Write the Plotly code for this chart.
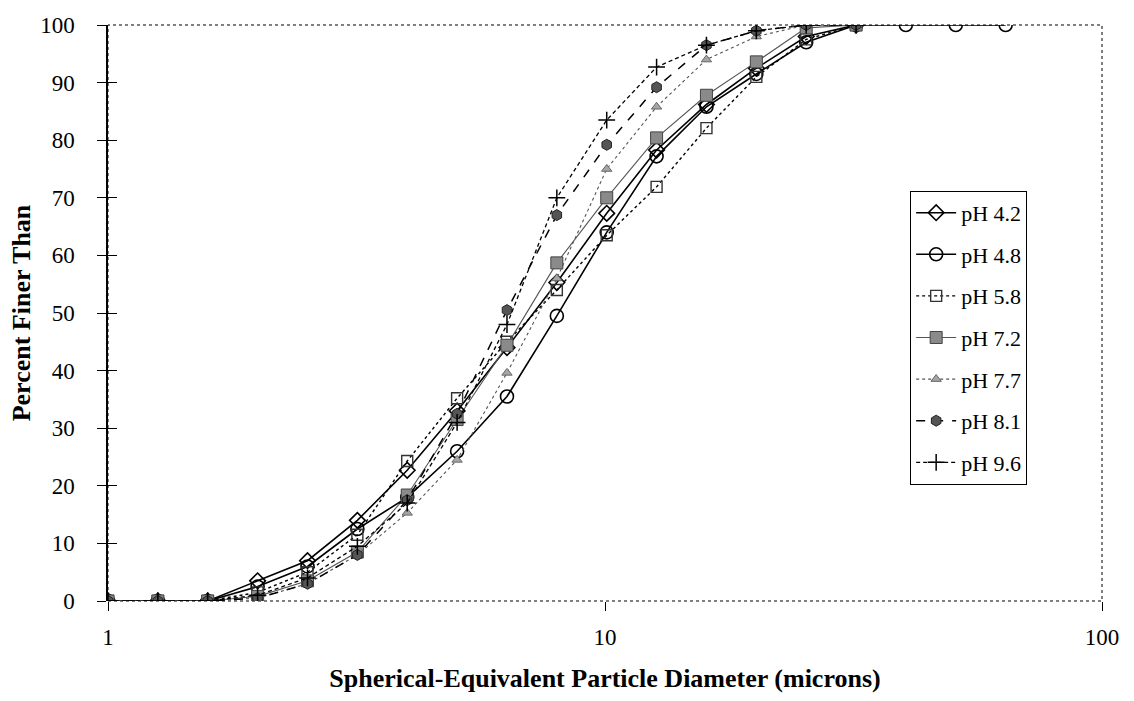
import plotly.graph_objects as go

# Sedigraph diameter classes (microns), geometric steps of 2^(1/3)
diameters = [1, 1.26, 1.587, 2, 2.52, 3.175, 4, 5.04, 6.35, 8, 10.08,
             12.7, 16, 20.16, 25.4, 32, 40.3, 50.8, 64]

# Cumulative percent finer than, per suspension pH
ph42 = [0, 0, 0, 3.5, 7, 14, 22.7, 33, 44, 55.3, 67.3, 78.3, 86.2, 92.5, 98, 100]
ph48 = [0, 0, 0, 2.5, 6, 12.5, 18, 26, 35.5, 49.5, 64, 77.2, 85.8, 91.5, 97, 100,
        100, 100, 100]
ph58 = [0, 0, 0, 1.5, 5, 11.5, 24.3, 35.2, 45, 54, 63.5, 71.9, 82.1, 91, 97.5, 100]
ph72 = [0, 0, 0, 0.8, 3.5, 8.5, 18.4, 31.5, 44.4, 58.7, 70, 80.4, 87.8, 93.6, 99.5, 100]
ph77 = [0, 0, 0, 0.5, 3, 8, 15.3, 24.5, 39.6, 56, 75, 85.8, 94, 98, 100, 100]
ph81 = [0, 0, 0, 0.5, 3, 8, 17.5, 32.5, 50.5, 67, 79.2, 89.2, 96.5, 99, 100, 100]
ph96 = [0, 0, 0, 1, 4, 9.5, 17, 31, 48, 70, 83.5, 92.7, 96.5, 99, 100, 100]

series_names = ["pH 4.2", "pH 4.8", "pH 5.8", "pH 7.2", "pH 7.7", "pH 8.1", "pH 9.6"]
series_values = [ph42, ph48, ph58, ph72, ph77, ph81, ph96]

x_ticks = [1, 10, 100]
y_ticks = [0, 10, 20, 30, 40, 50, 60, 70, 80, 90, 100]

FONT = "Liberation Serif"

styles = [
    dict(line=dict(color="black", width=1.6, dash="solid"),
         marker=dict(symbol="diamond-open", size=12, color="black", line=dict(width=1.6))),
    dict(line=dict(color="black", width=1.6, dash="solid"),
         marker=dict(symbol="circle-open", size=13, color="black", line=dict(width=1.6))),
    dict(line=dict(color="black", width=1.4, dash="dot"),
         marker=dict(symbol="square-open", size=11, color="#333", line=dict(width=1.4))),
    dict(line=dict(color="#555", width=1.1, dash="solid"),
         marker=dict(symbol="square", size=12, color="#8a8a8a", line=dict(width=1, color="#444"))),
    dict(line=dict(color="#555", width=1.1, dash="dot"),
         marker=dict(symbol="triangle-up", size=9, color="#a5a5a5", line=dict(width=1, color="#666"))),
    dict(line=dict(color="black", width=1.5, dash="dash"),
         marker=dict(symbol="hexagon", size=11, color="#555", line=dict(width=1, color="#222"))),
    dict(line=dict(color="black", width=1.3, dash="4px,3px"),
         marker=dict(symbol="cross-thin-open", size=12, color="black", line=dict(width=1.5))),
]

fig = go.Figure()
for name, vals, st in zip(series_names, series_values, styles):
    fig.add_trace(go.Scatter(
        x=diameters[:len(vals)], y=vals, name=name, mode="lines+markers",
        legendgroup=name, line=st["line"], marker=st["marker"],
    ))

# companion axis so the y ticks cross the axis line
fig.add_trace(go.Scatter(x=[1], y=[0], yaxis="y2", mode="markers",
                         marker=dict(opacity=0), showlegend=False, hoverinfo="skip"))

fig.update_layout(
    width=1134, height=701,
    margin=dict(l=108, r=32, t=25, b=100),
    paper_bgcolor="white", plot_bgcolor="white",
    font=dict(family=FONT, color="black", size=22),
    xaxis=dict(type="log", range=[0, 2], tickvals=x_ticks,
               ticktext=[str(v) for v in x_ticks],
               ticks="outside", ticklen=9, tickcolor="black",
               ticklabelstandoff=6,
               showgrid=False, zeroline=False, showline=False,
               tickfont=dict(size=23, family=FONT),
               title=dict(text="<b>Spherical-Equivalent Particle Diameter (microns)</b>",
                          font=dict(size=26, family=FONT), standoff=20)),
    yaxis=dict(range=[0, 100], tickvals=y_ticks, ticks="outside", ticklen=9,
               tickcolor="black", showgrid=False, zeroline=False,
               ticklabelstandoff=18,
               showline=True, linecolor="black", linewidth=1.5,
               tickfont=dict(size=23, family=FONT),
               title=dict(text="<b>Percent Finer Than</b>",
                          font=dict(size=26, family=FONT), standoff=2)),
    yaxis2=dict(range=[0, 100], overlaying="y", side="left", anchor="x",
                tickvals=y_ticks, ticks="inside", ticklen=9, tickcolor="black",
                tickwidth=1, showticklabels=False, showgrid=False,
                zeroline=False, showline=False),
    legend=dict(x=0.807, y=0.712, xanchor="left", yanchor="top",
                bgcolor="white", bordercolor="black", borderwidth=1,
                font=dict(size=22, family=FONT), tracegroupgap=10,
                itemwidth=40),
    shapes=[dict(type="rect", xref="paper", yref="paper", x0=0, x1=1, y0=0, y1=1,
                 line=dict(color="black", width=1, dash="dot"), layer="below")],
)

fig.write_html("out.html")
